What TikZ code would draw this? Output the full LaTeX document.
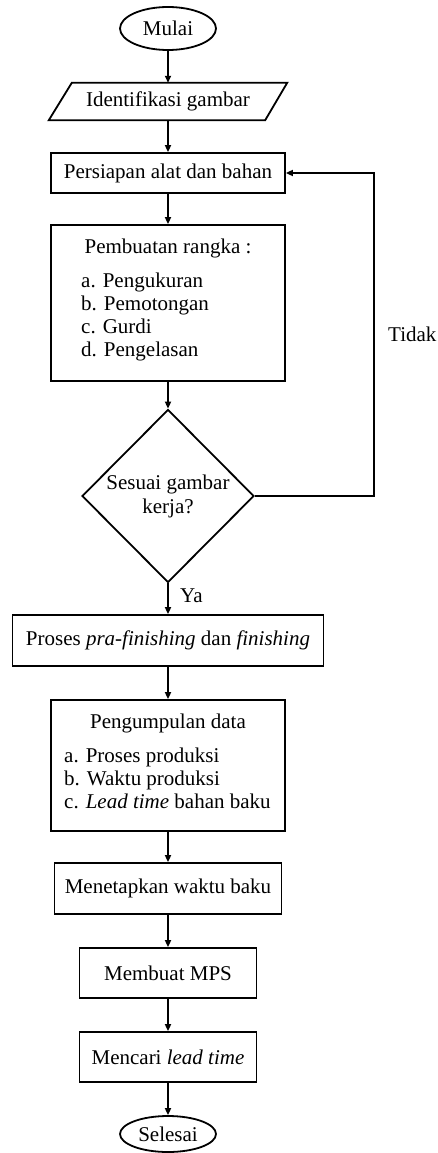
\documentclass[tikz,border=0pt]{standalone}
\usepackage{fontspec}
\setmainfont{Liberation Serif}
\usetikzlibrary{shapes.geometric,arrows.meta}
\begin{document}
\begin{tikzpicture}[x=1pt,y=-1pt,
  every node/.style={font=\fontsize{21}{23}\selectfont, inner sep=0pt},
  box/.style={draw, rectangle, line width=1.8pt},
  term/.style={draw, ellipse, line width=1.8pt, minimum width=96pt},
  arr/.style={line width=1.8pt, -{Triangle[length=7pt,width=6pt]}},
  lbl/.style={anchor=base west}]
\useasboundingbox (0,0) rectangle (437,1153);
\node[term, minimum height=43pt] (start) at (168,28.5) {Mulai};
\node[minimum width=238pt, minimum height=37pt] (ident) at (168,101.5) {Identifikasi gambar};
\draw[line width=1.8pt, line join=miter] (ident.south west) -- ([xshift=-22pt]ident.south east) -- (ident.north east) -- ([xshift=23pt]ident.north west) -- cycle;
\node[box, minimum width=234pt, minimum height=40pt] (prep) at (168,173) {Persiapan alat dan bahan};
\node[box, minimum width=234pt, minimum height=156pt] (build) at (168,303) {};
\node[anchor=base] (buildT) at (168,253) {Pembuatan rangka :};
\node[lbl] (buildL) at (81,287) {\begin{tabular}[t]{@{}l@{}}a. Pengukuran\\ b. Pemotongan\\ c. Gurdi\\ d. Pengelasan\end{tabular}};
\node[draw, diamond, line width=1.8pt, minimum width=172pt, minimum height=173pt, align=center,
      font=\fontsize{21}{24}\selectfont] (check) at (168,496) {Sesuai gambar\\kerja?};
\node[box, minimum width=311pt, minimum height=51pt] (fin) at (168,640.5) {Proses \textit{pra-finishing} dan \textit{finishing}};
\node[box, minimum width=234pt, minimum height=131pt] (data) at (168,765.5) {};
\node[anchor=base] (dataT) at (168,728) {Pengumpulan data};
\node[lbl] (dataL) at (64,762) {\begin{tabular}[t]{@{}l@{}}a. Proses produksi\\ b. Waktu produksi\\ c. \textit{Lead time} bahan baku\end{tabular}};
\node[box, minimum width=227pt, minimum height=51pt] (std) at (168,888.5) {Menetapkan waktu baku};
\node[box, minimum width=177pt, minimum height=50pt] (mps) at (168,973) {Membuat MPS};
\node[box, minimum width=177pt, minimum height=50pt] (lt) at (168,1057) {Mencari \textit{lead time}};
\node[term, minimum height=36pt] (end) at (168,1134) {Selesai};
\node[lbl] (ya) at (180,602) {Ya};
\node[lbl] (tidak) at (388,341) {Tidak};
\coordinate (loop) at (374,173);
\draw[arr] (start) -- (ident);
\draw[arr] (ident) -- (prep);
\draw[arr] (prep) -- (build);
\draw[arr] (build) -- (check);
\draw[arr] (check) -- (fin);
\draw[arr] (check.east) -| (loop) -- (prep.east);
\draw[arr] (fin) -- (data);
\draw[arr] (data) -- (std);
\draw[arr] (std) -- (mps);
\draw[arr] (mps) -- (lt);
\draw[arr] (lt) -- (end);
\end{tikzpicture}
\end{document}
